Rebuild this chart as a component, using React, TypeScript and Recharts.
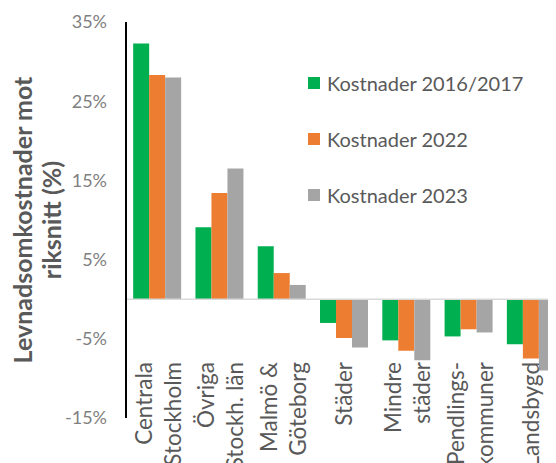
import React from 'react';
import { BarChart, Bar, XAxis, YAxis, ReferenceLine } from 'recharts';

const categories = [
    ['Centrala', 'Stockholm'],
    ['Övriga', 'Stockh. län'],
    ['Malmö &', 'Göteborg'],
    ['Städer'],
    ['Mindre', 'städer'],
    ['Pendlings-', 'kommuner'],
    ['Landsbygd'],
];
const costs2016 = [32.3, 9.1, 6.7, -3.0, -5.2, -4.7, -5.7];
const costs2022 = [28.3, 13.4, 3.3, -4.9, -6.5, -3.8, -7.5];
const costs2023 = [28.0, 16.5, 1.8, -6.1, -7.7, -4.2, -9.0];
const yTicks = [-15, -5, 5, 15, 25, 35];
const seriesNames = ['Kostnader 2016/2017', 'Kostnader 2022', 'Kostnader 2023'];
const seriesColors = ['#00B050', '#ED7D31', '#A5A5A5'];

const chartData = categories.map((lines, i) => ({
    name: lines.join(' '),
    k2016: costs2016[i],
    k2022: costs2022[i],
    k2023: costs2023[i],
}));

const FONT = 'Lato, "Open Sans", sans-serif';

const CategoryTick = (props: any) => {
    const { x, y, payload, index } = props;
    const lines = categories[index] ?? [payload.value];
    // labels end just under the negative bars, inside the plot
    const top = y - 64;
    const offsets = lines.length === 1 ? [8] : [-5, 24];
    return (
        <g>
            {lines.map((line: string, i: number) => (
                <text
                    key={i}
                    transform={`translate(${x + offsets[i]},${top}) rotate(-90)`}
                    textAnchor="end"
                    fontSize={22.5}
                    fontFamily={FONT}
                    fill="#595959"
                >
                    {line}
                </text>
            ))}
        </g>
    );
};

const ChartLegend = () => (
    <div style={{ position: 'absolute', left: 308, top: 55, fontFamily: FONT, fontSize: 20, color: '#595959' }}>
        {seriesNames.map((name, i) => (
            <div key={name} style={{ display: 'flex', alignItems: 'center', height: 56 }}>
                <span style={{ width: 12, height: 12, background: seriesColors[i], marginRight: 7, display: 'inline-block' }} />
                <span>{name}</span>
            </div>
        ))}
    </div>
);

const App: React.FC = () => {
    return (
        <div style={{ position: 'relative', margin: '-8px 0 0 -8px', width: 556, height: 463, overflow: 'hidden', background: '#fff' }}>
            <BarChart
                width={564}
                height={463}
                data={chartData}
                margin={{ top: 22, right: 2, left: 66, bottom: 0 }}
                barCategoryGap="11.5%"
                barGap={0}
            >
                <YAxis
                    domain={[-15, 35]}
                    ticks={yTicks}
                    width={60}
                    tickSize={0}
                    tickMargin={19}
                    tickFormatter={(v: number) => `${v}%`}
                    axisLine={{ stroke: '#000', strokeWidth: 2 }}
                    tickLine={false}
                    tick={{ fill: '#7F7F7F', fontSize: 18, fontFamily: FONT }}
                />
                <ReferenceLine y={0} stroke="#D9D9D9" strokeWidth={1.5} />
                <Bar dataKey="k2016" name={seriesNames[0]} fill={seriesColors[0]} isAnimationActive={false} />
                <Bar dataKey="k2022" name={seriesNames[1]} fill={seriesColors[1]} isAnimationActive={false} />
                <Bar dataKey="k2023" name={seriesNames[2]} fill={seriesColors[2]} isAnimationActive={false} />
                <XAxis dataKey="name" height={45} axisLine={false} tickLine={false} interval={0} tick={<CategoryTick />} />
            </BarChart>
            <ChartLegend />
            <div
                style={{
                    position: 'absolute',
                    left: 37,
                    top: 220,
                    transform: 'translate(-50%, -50%) rotate(-90deg)',
                    whiteSpace: 'nowrap',
                    textAlign: 'center',
                    fontFamily: FONT,
                    fontWeight: 'bold',
                    fontSize: 25,
                    lineHeight: '29px',
                    color: '#595959',
                }}
            >
                Levnadsomkostnader mot
                <br />
                riksnitt (%)
            </div>
        </div>
    );
};

export default App;
